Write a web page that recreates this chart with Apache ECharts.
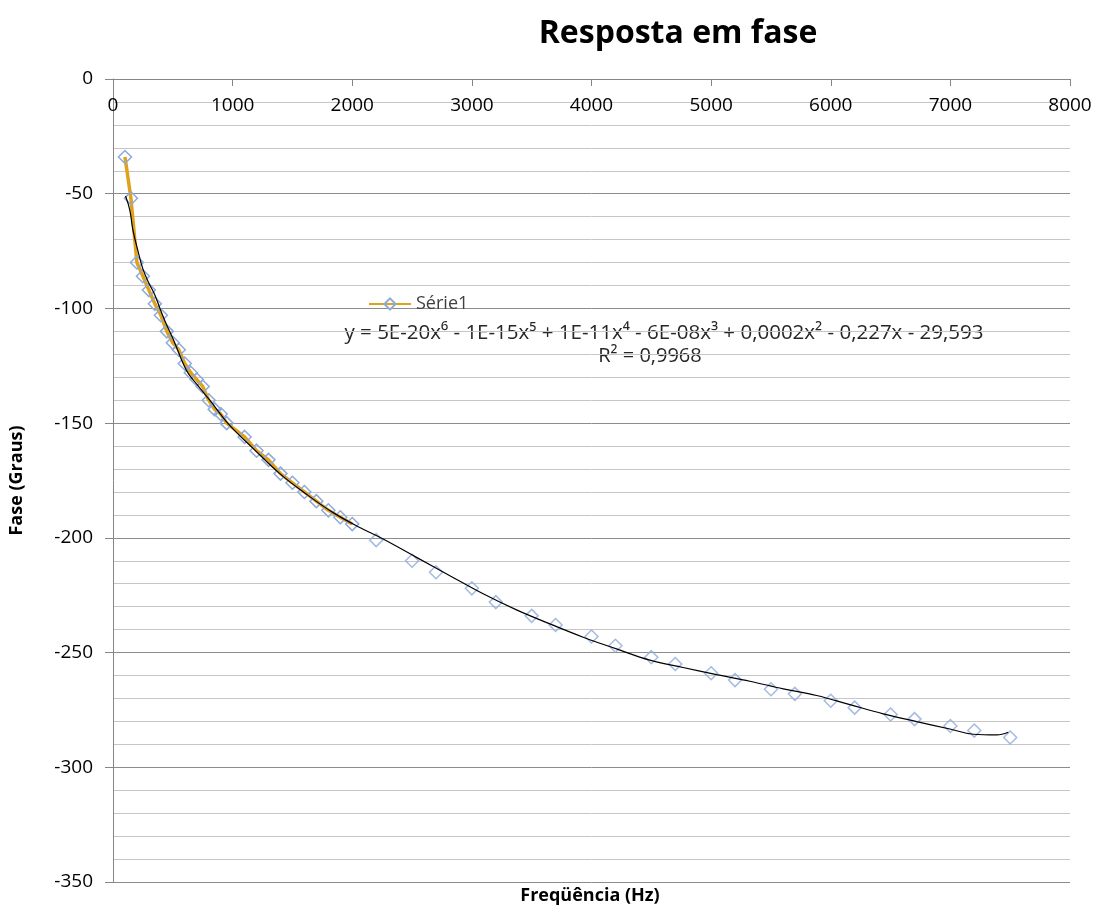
<!DOCTYPE html>
<html>
<head>
<meta charset="utf-8">
<script src="https://cdn.jsdelivr.net/npm/echarts@6/dist/echarts.min.js"></script>
<style>html,body{margin:0;padding:0;background:#fff;}#c{width:1099px;height:913px;}</style>
</head>
<body>
<div id="c"></div>
<script>
// Measured points with the orange connecting line (0–2000 Hz)
const freqLow = [100,150,200,250,300,350,400,450,500,550,600,650,700,750,800,850,900,950,1100,1200,1300,1400,1500,1600,1700,1800,1900,2000];
const phaseLow = [-34,-52,-80,-86,-92,-98,-103,-110,-115,-118,-124,-128,-131,-134,-140,-144,-146,-150,-156,-162,-166,-172,-176,-180,-184,-188,-191,-194];
// Measured points without line (above 2000 Hz)
const freqHigh = [2200,2500,2700,3000,3200,3500,3700,4000,4200,4500,4700,5000,5200,5500,5700,6000,6200,6500,6700,7000,7200,7500];
const phaseHigh = [-201,-210,-215,-222,-228,-234,-238,-243,-247,-252,-255,-259,-262,-266,-268,-271,-274,-277,-279,-282,-284,-287];
// Polynomial trendline
const trendFreq = [105,140,167,209,251,300,349,400,447,500,614,700,809,976,1171,1394,1617,1840,2063,2258,2537,2816,3094,3373,3652,3930,4209,4488,4766,5046,5324,5603,5882,6160,6439,6718,6996,7191,7387,7484];
const trendPhase = [-51,-57,-66,-75,-83,-89,-94,-101,-107,-113,-127,-133,-140,-151,-161,-172,-181,-189,-195.5,-200.5,-208.5,-216.5,-224.4,-231.4,-237.5,-243.3,-248.4,-253.3,-256.5,-259.6,-262.5,-265.8,-268.7,-272.7,-276.7,-280.1,-283.3,-285.6,-285.9,-284.7];
const xTicks = [0,1000,2000,3000,4000,5000,6000,7000,8000];
const yTicks = [0,-50,-100,-150,-200,-250,-300,-350];

const FONT = 'Open Sans';
const zip = (a, b) => a.map((v, i) => [v, b[i]]);
const marker = {color: 'rgba(0,0,0,0)', borderColor: '#8EAADB', borderWidth: 1.5};

const chart = echarts.init(document.getElementById('c'), null, {renderer: 'canvas'});
chart.setOption({
  animation: false,
  backgroundColor: '#ffffff',
  textStyle: {fontFamily: FONT},
  title: {
    text: 'Resposta em fase', left: 673, top: 13, textAlign: 'center',
    textStyle: {fontFamily: FONT, fontSize: 32, fontWeight: 'bold', color: '#000'}
  },
  grid: {left: 113, right: 29, top: 79, bottom: 31, containLabel: false},
  legend: {
    data: ['Série1'], left: 363, top: 290, itemWidth: 42, itemHeight: 14, itemGap: 5,
    textStyle: {fontFamily: FONT, fontSize: 18, color: '#404040'}
  },
  xAxis: {
    type: 'value', position: 'top', min: xTicks[0], max: xTicks[xTicks.length - 1], interval: 1000,
    axisLine: {show: true, onZero: false, lineStyle: {color: '#868686', width: 1}},
    axisTick: {show: true, inside: true, length: 7, lineStyle: {color: '#868686'}},
    axisLabel: {inside: true, margin: 17, fontFamily: FONT, fontSize: 19, color: '#000', formatter: v => String(v)},
    splitLine: {show: false}
  },
  yAxis: {
    type: 'value', min: yTicks[yTicks.length - 1], max: yTicks[0], interval: 50,
    name: 'Fase (Graus)', nameLocation: 'middle', nameGap: 87, nameRotate: 90,
    nameTextStyle: {fontFamily: FONT, fontSize: 18, fontWeight: 'bold', color: '#000'},
    axisLine: {show: true, lineStyle: {color: '#868686', width: 1}},
    axisTick: {show: true, length: 8, lineStyle: {color: '#868686'}},
    axisLabel: {margin: 20, fontFamily: FONT, fontSize: 19, color: '#000', formatter: v => String(v)},
    splitLine: {show: true, lineStyle: {color: '#8C8C8C', width: 1}},
    minorTick: {show: false, splitNumber: 5},
    minorSplitLine: {show: true, lineStyle: {color: '#C6C6C6', width: 1}}
  },
  graphic: [
    {type: 'text', style: {x: 590, y: 896, text: 'Freqüência (Hz)', textAlign: 'center', textVerticalAlign: 'middle', fontFamily: FONT, fontSize: 18, fontWeight: 'bold', fill: '#000'}},
    {type: 'text', style: {x: 664, y: 333, text: 'y = 5E-20x⁶ - 1E-15x⁵ + 1E-11x⁴ - 6E-08x³ + 0,0002x² - 0,227x - 29,593', textAlign: 'center', textVerticalAlign: 'middle', fontFamily: FONT, fontSize: 20.5, fill: '#262626'}},
    {type: 'text', style: {x: 650, y: 356, text: 'R² = 0,9968', textAlign: 'center', textVerticalAlign: 'middle', fontFamily: FONT, fontSize: 20, fill: '#262626'}}
  ],
  series: [
    {
      name: 'Trend', type: 'line', data: zip(trendFreq, trendPhase), smooth: 0.4,
      showSymbol: false, symbol: 'none', lineStyle: {color: '#000', width: 1.2}, z: 3, silent: true
    },
    {
      name: 'Série1', type: 'line', data: zip(freqLow, phaseLow),
      symbol: 'diamond', symbolSize: 13, showAllSymbol: true,
      lineStyle: {color: '#E0A11B', width: 3.5}, itemStyle: marker, z: 2
    },
    {
      name: 'Série1', type: 'scatter', data: zip(freqHigh, phaseHigh),
      symbol: 'diamond', symbolSize: 13, itemStyle: marker, z: 2
    }
  ]
});
</script>
</body>
</html>
